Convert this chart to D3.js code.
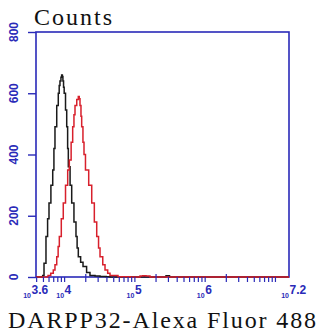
<!DOCTYPE html>
<html><head><meta charset="utf-8">
<script src="https://cdn.jsdelivr.net/npm/d3@7"></script>
<style>body{margin:0;background:#fff}svg{display:block}</style>
</head><body>
<script>
// log10 of intensity and counts
const blackLog = [3.60,3.685,3.695,3.714,3.742,3.765,3.785,3.812,3.838,3.855,3.870,3.895,3.917,3.930,3.941,3.955,3.965,3.975,3.983,3.992,4.001,4.020,4.037,4.050,4.060,4.085,4.108,4.140,4.169,4.185,4.202,4.235,4.269,4.320,4.368,4.440,4.511,4.600,4.653,5.0,5.40,5.45,5.50,7.2];
const blackCnt = [0,0,5,45,132,190,242,300,349,420,491,560,600,625,640,652,660,655,640,620,600,545,491,420,360,300,242,180,132,95,66,48,34,15,5,3,2,1,0,0,0,4,0,0];
const redLog = [3.60,3.728,3.771,3.810,3.846,3.870,3.895,3.915,3.932,3.960,3.988,4.020,4.051,4.074,4.100,4.122,4.140,4.155,4.180,4.202,4.215,4.226,4.240,4.250,4.268,4.283,4.304,4.350,4.393,4.430,4.464,4.490,4.511,4.550,4.582,4.620,4.653,4.767,4.938,5.080,5.120,5.165,5.222,7.2];
const redCnt = [0,0,5,12,23,40,66,100,132,190,242,300,349,382,440,491,530,560,580,589,582,560,525,491,440,400,349,300,242,180,132,95,66,40,23,12,5,1,0,3,4,3,0,0];
const yTicks = [0,200,400,600,800];
const xMajor = [3.6,4,5,6,7.2];
const xMajorLabels = ["3.6","4","5","6","7.2"];
const yTitle = "Counts";
const xTitle = "DARPP32-Alexa Fluor 488";

const W=320,H=336;
const m={l:36,r:31,t:32,b:59};
const blue="#2a2ab8";
const svg=d3.select("body").append("svg").attr("width",W).attr("height",H);
const x=d3.scaleLog().domain([Math.pow(10,3.6),Math.pow(10,7.2)]).range([m.l,W-m.r]);
const y=d3.scaleLinear().domain([0,800]).range([H-m.b,m.t]);

// frame
svg.append("rect").attr("x",m.l).attr("y",m.t).attr("width",W-m.r-m.l).attr("height",H-m.b-m.t)
  .attr("fill","none").attr("stroke",blue).attr("stroke-width",1.6);

// curves
const line=d3.line().x(d=>x(Math.pow(10,d[0]))).y(d=>y(d[1])).curve(d3.curveStepAfter);
svg.append("path").datum(blackLog.map((v,i)=>[v,blackCnt[i]])).attr("d",line)
  .attr("fill","none").attr("stroke","#1a1a1a").attr("stroke-width",1.5);
svg.append("path").datum(redLog.map((v,i)=>[v,redCnt[i]])).attr("d",line)
  .attr("fill","none").attr("stroke","#d8202c").attr("stroke-width",1.5);

// y axis
const yAx=svg.append("g").attr("transform",`translate(${m.l},0)`)
  .call(d3.axisLeft(y).tickValues(yTicks).tickSize(8).tickFormat(""));
yAx.select(".domain").remove();
yAx.selectAll("line").attr("stroke",blue).attr("stroke-width",1.4);
yTicks.forEach(t=>{
  svg.append("text").attr("transform",`translate(17.5,${y(t)}) rotate(-90)`)
    .attr("text-anchor","middle").attr("font-family","Liberation Sans, Arial, sans-serif")
    .attr("font-weight","bold").attr("font-size",12).attr("fill",blue).text(t);
});

// x minor ticks
const minor=[];
for(let k=3;k<=7;k++)for(let j=1;j<=9;j++){const v=j*Math.pow(10,k);if(v>=Math.pow(10,3.6)&&v<=Math.pow(10,7.2))minor.push(v);}
const xAx=svg.append("g").attr("transform",`translate(0,${H-m.b})`)
  .call(d3.axisBottom(x).tickValues(minor).tickSize(5).tickFormat(""));
xAx.select(".domain").remove();
xAx.selectAll("line").attr("stroke",blue).attr("stroke-width",1.2)
  .attr("y1",d=>(Math.round(d/Math.pow(10,Math.floor(Math.log10(d)+1e-9)))===2)?-3:0);

// x labels
xMajor.forEach((e,i)=>{
  const px=x(Math.pow(10,e))-(i===0?5:0);
  const g=svg.append("g").attr("fill",blue).attr("font-family","Liberation Sans, Arial, sans-serif").attr("font-weight","bold");
  g.append("text").attr("x",px).attr("y",298).attr("text-anchor","end").attr("font-size",7).text("10");
  g.append("text").attr("x",px+0.5).attr("y",294).attr("text-anchor","start").attr("font-size",12).text(xMajorLabels[i]);
});

// titles
svg.append("text").attr("x",34).attr("y",25).attr("font-family","Liberation Serif, serif")
  .attr("font-size",24).attr("fill","#111").attr("textLength",78).attr("lengthAdjust","spacing").text(yTitle);
svg.append("text").attr("x",8).attr("y",328).attr("font-family","Liberation Serif, serif")
  .attr("font-size",24).attr("fill","#111").attr("textLength",308).attr("lengthAdjust","spacing").text(xTitle);
</script>
</body></html>
